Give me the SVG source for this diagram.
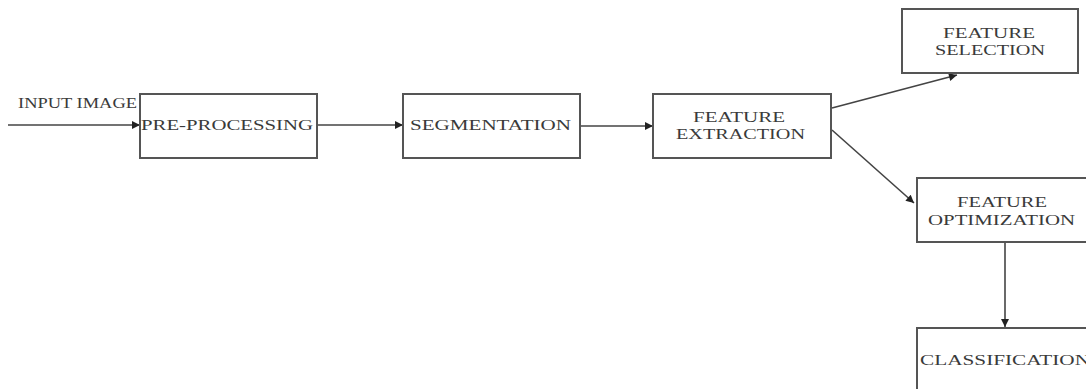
<svg xmlns="http://www.w3.org/2000/svg" width="1086" height="389" viewBox="0 0 1086 389">
<style>
.box{fill:#fff;stroke:#555;stroke-width:2}
.lbl{font-family:"Liberation Serif","Times New Roman",serif;font-size:15px;fill:#3a3a3a}
.con{stroke:#444;stroke-width:1.6;fill:none;marker-end:url(#ah)}
</style>
<defs>
<marker id="ah" viewBox="0 0 10 10" refX="10" refY="5" markerWidth="10" markerHeight="8" markerUnits="userSpaceOnUse" orient="auto">
<path d="M0,0 L10,5 L0,10 z" fill="#222"/>
</marker>
</defs>
<rect width="1086" height="389" fill="#fff"/>
<g id="connectors">
<line class="con" x1="8" y1="125" x2="140" y2="125"/>
<line class="con" x1="317" y1="125" x2="403" y2="125"/>
<line class="con" x1="580" y1="126" x2="653" y2="126"/>
<line class="con" x1="832" y1="108" x2="957" y2="75"/>
<line class="con" x1="832" y1="130" x2="914" y2="203"/>
<line class="con" x1="1005" y1="242" x2="1005" y2="327"/>
</g>
<g id="input-label">
<text class="lbl" x="18" y="108" textLength="119" lengthAdjust="spacingAndGlyphs" font-size="14">INPUT IMAGE</text>
</g>
<g id="pre-processing">
<rect class="box" x="140" y="94" width="177" height="64"/>
<text class="lbl" x="141" y="130" textLength="172" lengthAdjust="spacingAndGlyphs">PRE-PROCESSING</text>
</g>
<g id="segmentation">
<rect class="box" x="403" y="94" width="177" height="64"/>
<text class="lbl" x="410" y="130" textLength="161" lengthAdjust="spacingAndGlyphs">SEGMENTATION</text>
</g>
<g id="feature-extraction">
<rect class="box" x="653" y="94" width="178" height="64"/>
<text class="lbl" x="693" y="122" textLength="92" lengthAdjust="spacingAndGlyphs">FEATURE</text>
<text class="lbl" x="676" y="139" textLength="129" lengthAdjust="spacingAndGlyphs">EXTRACTION</text>
</g>
<g id="feature-selection">
<rect class="box" x="902" y="9" width="176" height="64"/>
<text class="lbl" x="943" y="38" textLength="92" lengthAdjust="spacingAndGlyphs">FEATURE</text>
<text class="lbl" x="935" y="55" textLength="110" lengthAdjust="spacingAndGlyphs">SELECTION</text>
</g>
<g id="feature-optimization">
<rect class="box" x="917" y="178" width="176" height="64"/>
<text class="lbl" x="957" y="207" textLength="90" lengthAdjust="spacingAndGlyphs">FEATURE</text>
<text class="lbl" x="928" y="225" textLength="147" lengthAdjust="spacingAndGlyphs">OPTIMIZATION</text>
</g>
<g id="classification">
<rect class="box" x="917" y="328" width="176" height="70"/>
<text class="lbl" x="920" y="365" textLength="170" lengthAdjust="spacingAndGlyphs">CLASSIFICATION</text>
</g>
</svg>
